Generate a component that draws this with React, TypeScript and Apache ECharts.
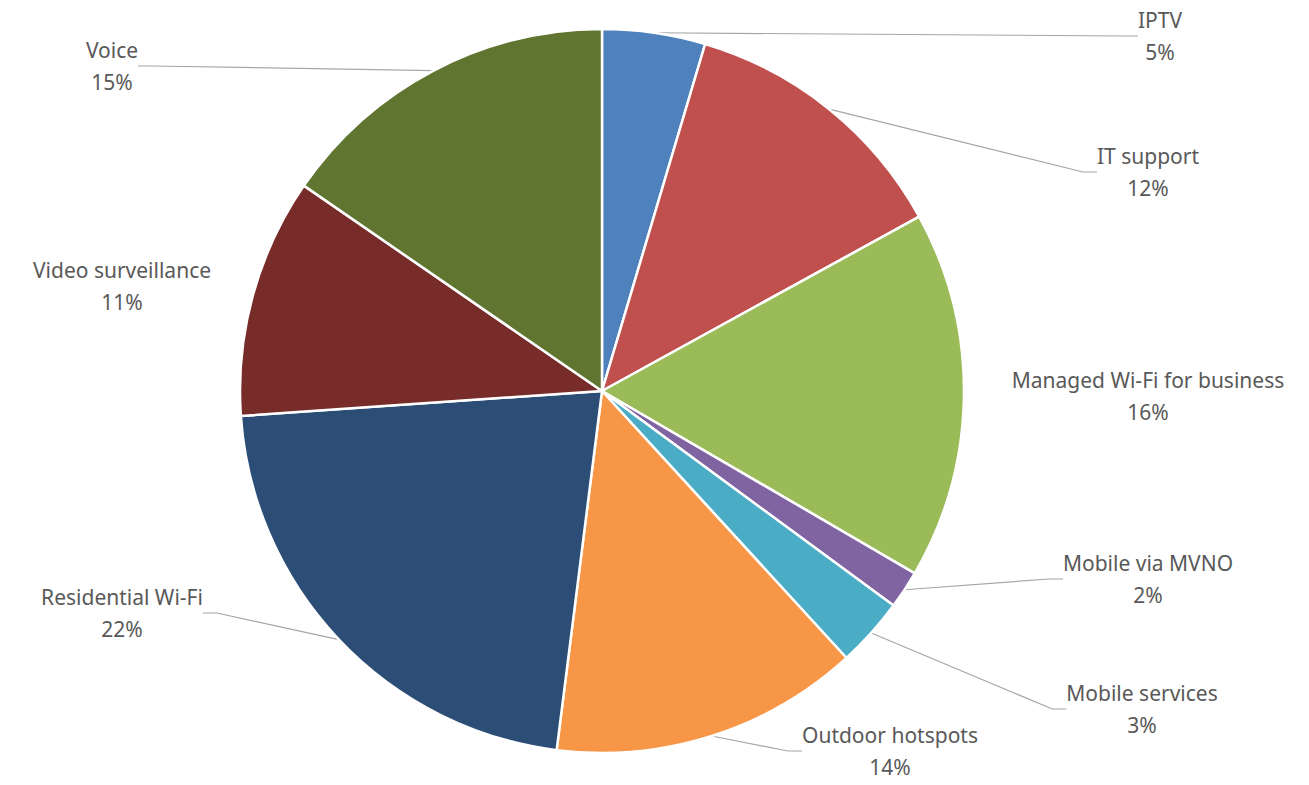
import React, { useEffect, useRef } from "react";
import * as echarts from "echarts";

const categories = [
  "IPTV",
  "IT support",
  "Managed Wi-Fi for business",
  "Mobile via MVNO",
  "Mobile services",
  "Outdoor hotspots",
  "Residential Wi-Fi",
  "Video surveillance",
  "Voice",
];
const values = [4.6, 12.4, 16.4, 1.7, 3.1, 13.8, 21.9, 10.7, 15.4];
const colors = [
  "#4F81BD",
  "#C0504D",
  "#9BBB59",
  "#8064A2",
  "#4BACC6",
  "#F79646",
  "#2C4D75",
  "#772C2A",
  "#5F7530",
];
const hiddenLines = ["Managed Wi-Fi for business", "Video surveillance"];
// label anchor positions (layout only)
const labelSpots: [number, number][] = [
  [1160, 36],
  [1148, 172],
  [1148, 396],
  [1148, 579],
  [1142, 709],
  [890, 751],
  [122, 613],
  [122, 286],
  [112, 66],
];

export default function App() {
  const ref = useRef<HTMLDivElement>(null);
  useEffect(() => {
    document.body.style.margin = "0";
    const chart = echarts.init(ref.current!, null, { renderer: "svg" });
    chart.setOption({
      animation: false,
      backgroundColor: "#ffffff",
      series: [
        {
          type: "pie",
          center: [602, 391],
          radius: 362,
          startAngle: 90,
          clockwise: true,
          percentPrecision: 0,
          avoidLabelOverlap: false,
          itemStyle: { borderColor: "#ffffff", borderWidth: 2.5 },
          label: {
            show: true,
            position: "outside",
            formatter: "{b}\n{d}%",
            color: "#595959",
            fontFamily: "Noto Sans",
            fontSize: 21,
            lineHeight: 32,
            align: "center",
          },
          labelLine: {
            show: true,
            length: 20,
            length2: 14,
            lineStyle: { color: "#A6A6A6", width: 1.2 },
          },
          labelLayout: (p: any) => {
            const s = labelSpots[p.dataIndex];
            return { x: s[0], y: s[1], align: "center", verticalAlign: "middle" };
          },
          data: categories.map((c, i) => ({
            name: c,
            value: values[i],
            itemStyle: { color: colors[i] },
            labelLine: { show: !hiddenLines.includes(c) },
          })),
        },
      ],
    });
    return () => chart.dispose();
  }, []);
  return <div ref={ref} style={{ width: 1309, height: 785 }} />;
}
